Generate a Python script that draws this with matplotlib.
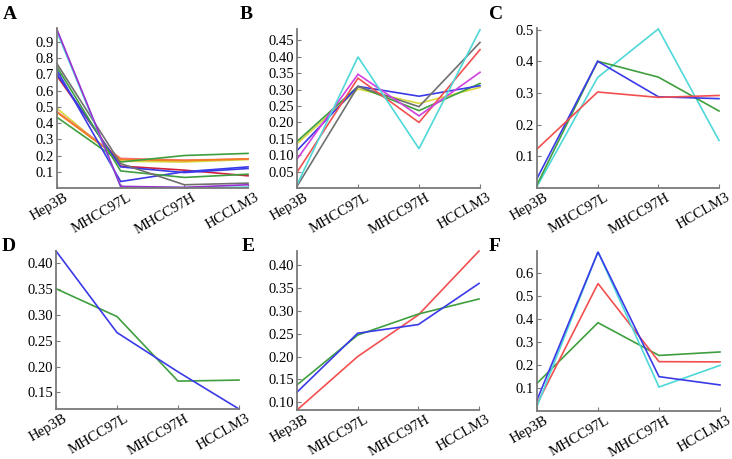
import matplotlib
matplotlib.use("Agg")
import matplotlib.pyplot as plt
from matplotlib.ticker import FormatStrFormatter
from matplotlib.transforms import ScaledTranslation

plt.rcParams['font.family'] = 'serif'
plt.rcParams['font.serif'] = ['Liberation Serif', 'DejaVu Serif']

categories = ["Hep3B", "MHCC97L", "MHCC97H", "HCCLM3"]

# Panel A series
a_purple = [0.975, 0.010, 0.004, 0.020]
a_blue1 = [0.960, 0.008, 0.002, 0.006]
a_gray = [0.765, 0.150, 0.020, 0.030]
a_green1 = [0.745, 0.105, 0.065, 0.085]
a_blue2 = [0.725, 0.040, 0.100, 0.130]
a_crimson = [0.690, 0.135, 0.110, 0.075]
a_blue3 = [0.700, 0.130, 0.095, 0.120]
a_yellow = [0.490, 0.165, 0.160, 0.175]
a_orange = [0.465, 0.175, 0.168, 0.180]
a_pink = [0.470, 0.182, 0.172, 0.178]
a_green2 = [0.435, 0.160, 0.200, 0.213]

# Panel B series
b_cyan = [0.010, 0.400, 0.120, 0.483]
b_gray = [0.005, 0.310, 0.248, 0.444]
b_red = [0.048, 0.335, 0.200, 0.422]
b_magenta = [0.088, 0.347, 0.220, 0.353]
b_green = [0.142, 0.310, 0.236, 0.319]
b_blue = [0.114, 0.310, 0.280, 0.312]
b_yellow = [0.135, 0.302, 0.258, 0.307]

# Panel C series
c_red = [0.123, 0.303, 0.286, 0.292]
c_blue = [0.030, 0.400, 0.288, 0.282]
c_green = [0.010, 0.400, 0.350, 0.243]
c_cyan = [0.005, 0.349, 0.502, 0.150]

# Panel D series
d_blue = [0.424, 0.266, 0.190, 0.118]
d_green = [0.351, 0.297, 0.172, 0.174]

# Panel E series
e_red = [0.083, 0.200, 0.291, 0.431]
e_blue = [0.122, 0.251, 0.270, 0.360]
e_green = [0.138, 0.247, 0.293, 0.326]

# Panel F series
f_blue = [0.048, 0.690, 0.149, 0.113]
f_cyan = [0.020, 0.690, 0.104, 0.198]
f_red = [0.030, 0.553, 0.214, 0.213]
f_green = [0.120, 0.383, 0.241, 0.256]

COL = {
    'blue': '#3a3ae8', 'green': '#3f9f3f', 'red': '#f25050', 'cyan': '#4fd8d8',
    'gray': '#707070', 'purple': '#9a30d0', 'magenta': '#d040e0', 'yellow': '#d8d840',
    'orange': '#f08020', 'pink': '#f87070', 'crimson': '#d02040',
}

W, H = 732, 459
fig = plt.figure(figsize=(W / 100, H / 100), dpi=100)


def rect(l, r, t, b):
    return [l / W, (H - b) / H, (r - l) / W, (b - t) / H]


panels = [
    dict(letter='A', rect=rect(57, 248, 28, 188), ylim=(0, 0.985),
         yticks=[0.1, 0.2, 0.3, 0.4, 0.5, 0.6, 0.7, 0.8, 0.9], fmt='%.1f',
         series=[(a_yellow, 'yellow'), (a_pink, 'pink'), (a_orange, 'orange'),
                 (a_green2, 'green'), (a_crimson, 'crimson'), (a_blue3, 'blue'),
                 (a_blue2, 'blue'), (a_green1, 'green'), (a_gray, 'gray'),
                 (a_blue1, 'cyan'), (a_purple, 'purple')],
         lpos=(3, 19)),
    dict(letter='B', rect=rect(297, 480, 29, 188), ylim=(0, 0.485),
         yticks=[0.05, 0.10, 0.15, 0.20, 0.25, 0.30, 0.35, 0.40, 0.45], fmt='%.2f',
         series=[(b_yellow, 'yellow'), (b_green, 'green'), (b_blue, 'blue'),
                 (b_gray, 'gray'), (b_red, 'red'), (b_magenta, 'magenta'), (b_cyan, 'cyan')],
         lpos=(240, 19)),
    dict(letter='C', rect=rect(537, 719, 28, 188), ylim=(0, 0.505),
         yticks=[0.1, 0.2, 0.3, 0.4, 0.5], fmt='%.1f',
         series=[(c_cyan, 'cyan'), (c_green, 'green'), (c_blue, 'blue'), (c_red, 'red')],
         lpos=(489, 19)),
    dict(letter='D', rect=rect(56, 239, 251, 409), ylim=(0.118, 0.424),
         yticks=[0.15, 0.20, 0.25, 0.30, 0.35, 0.40], fmt='%.2f',
         series=[(d_green, 'green'), (d_blue, 'blue')],
         lpos=(2, 251)),
    dict(letter='E', rect=rect(297, 479, 251, 410), ylim=(0.083, 0.431),
         yticks=[0.10, 0.15, 0.20, 0.25, 0.30, 0.35, 0.40], fmt='%.2f',
         series=[(e_red, 'red'), (e_green, 'green'), (e_blue, 'blue')],
         lpos=(242, 251)),
    dict(letter='F', rect=rect(537, 720, 251, 411), ylim=(0, 0.694),
         yticks=[0.1, 0.2, 0.3, 0.4, 0.5, 0.6], fmt='%.1f',
         series=[(f_green, 'green'), (f_red, 'red'), (f_cyan, 'cyan'), (f_blue, 'blue')],
         lpos=(489, 251)),
]

x = list(range(len(categories)))
shift = ScaledTranslation(7 / 100, 0, fig.dpi_scale_trans)
for p in panels:
    ax = fig.add_axes(p['rect'])
    for vals, c in p['series']:
        ax.plot(x, vals, color=COL[c], lw=1.2, solid_joinstyle='miter', clip_on=False)
    ax.set_xlim(0, 3)
    ax.set_ylim(*p['ylim'])
    ax.set_yticks(p['yticks'])
    ax.yaxis.set_major_formatter(FormatStrFormatter(p['fmt']))
    ax.set_xticks(x)
    ax.set_xticklabels(categories, rotation=30, ha='right', va='top',
                       rotation_mode='anchor')
    for s in ['top', 'right']:
        ax.spines[s].set_visible(False)
    for s in ['left', 'bottom']:
        ax.spines[s].set_color('#7a7a7a')
        ax.spines[s].set_linewidth(1.3)
    ax.tick_params(axis='both', direction='in', length=3, color='#7a7a7a',
                   labelsize=10.5, labelcolor='black', pad=2)
    ax.tick_params(axis='x', pad=2)
    for lab in ax.get_xticklabels():
        lab.set_transform(lab.get_transform() + shift)
    fig.text(p['lpos'][0] / W, 1 - p['lpos'][1] / H, p['letter'],
             fontsize=14, fontweight='bold', ha='left', va='baseline')

fig.savefig('out.png', dpi=100)
